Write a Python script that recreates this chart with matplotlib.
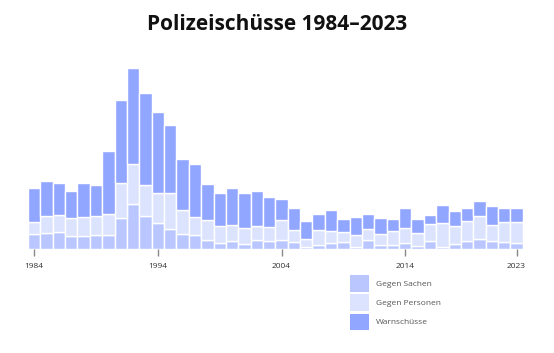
import numpy as np
import matplotlib
matplotlib.use("Agg")
import matplotlib.pyplot as plt
from matplotlib.patches import Patch

plt.rcParams['font.family'] = ['Open Sans', 'DejaVu Sans']

years = list(range(1984, 2024))
gegen_sachen = [15, 15.7, 16.7, 13.3, 13.3, 14.3, 14.3, 30.7, 44.7, 32.7,
                25.7, 19.7, 15, 14, 9.3, 6.3, 8.3, 5.3, 9.3, 8.3,
                9.3, 7.3, 1.7, 4.3, 6.3, 7.3, 2.3, 9.3, 4.3, 4.3,
                6.3, 3.3, 8.3, 2.3, 5.3, 8.3, 10.3, 8.3, 7.3, 6.3]
gegen_personen = [11.7, 17, 17, 17.4, 18.4, 18.4, 21, 35, 40.3, 31.3,
                  30, 36.6, 24.3, 18.5, 20, 16.4, 15.4, 15.7, 13.4, 13.4,
                  19.4, 11.7, 8.6, 14.7, 11.7, 9.7, 12, 10.7, 11, 14,
                  14.7, 13, 16.4, 23.4, 17.7, 19.4, 23, 15.4, 19.4, 20.4]
warnschuesse = [34.3, 35, 32, 27.3, 34, 31, 63, 83, 96, 92.3,
                81.3, 67.7, 50.4, 52.4, 35.7, 33.6, 37.3, 35.3, 35.3, 30.6,
                21.6, 22, 17.4, 16.3, 21, 13.3, 18, 15, 16, 12,
                19.7, 14, 9.6, 18.3, 15, 13, 15, 19.3, 14, 14]
tick_years = [1984, 1994, 2004, 2014, 2023]

c_sachen = "#b9c6ff"
c_personen = "#dce3ff"
c_warn = "#91a6ff"

fig = plt.figure(figsize=(5.54, 3.53), dpi=100)
ax = fig.add_axes([28 / 554, 1 - 249 / 353, 496 / 554, 190 / 353])

x = np.array(years)
s = np.array(gegen_sachen)
p = np.array(gegen_personen)
w = np.array(warnschuesse)
kw = dict(width=1.0, edgecolor="white", linewidth=1.0)
ax.bar(x, s, color=c_sachen, **kw)
ax.bar(x, p, bottom=s, color=c_personen, **kw)
ax.bar(x, w, bottom=s + p, color=c_warn, **kw)

ax.set_xlim(1983.5, 2023.6)
ax.set_ylim(0, 190)
for sp in ax.spines.values():
    sp.set_visible(False)
ax.set_yticks([])
ax.set_xticks(tick_years)
ax.set_xticklabels([str(t) for t in tick_years], fontsize=6, color="#333333")
ax.tick_params(axis="x", length=5, width=1, color="#888888", pad=5)

fig.text(0.5, 1 - 25 / 353, "Polizeischüsse 1984–2023", ha="center", va="center",
         fontsize=15, fontweight="bold", color="#111111")

handles = [Patch(facecolor=c_sachen, edgecolor="none"),
           Patch(facecolor=c_personen, edgecolor="none"),
           Patch(facecolor=c_warn, edgecolor="none")]
labels = ["Gegen Sachen", "Gegen Personen", "Warnschüsse"]
leg = fig.legend(handles, labels, loc="upper left", bbox_to_anchor=(343 / 554, 1 - 268 / 353),
                 frameon=False, fontsize=6, handlelength=2.3, handleheight=2.75,
                 labelspacing=0.3, handletextpad=0.9, borderpad=0.3)
for t in leg.get_texts():
    t.set_color("#555555")

fig.savefig("out.png", dpi=100)
